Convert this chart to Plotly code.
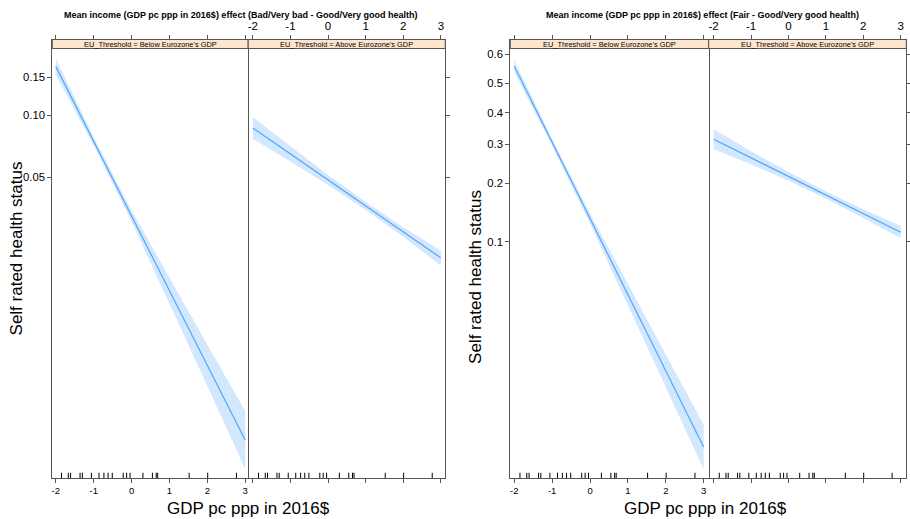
import numpy as np
import plotly.graph_objects as go

# ---------------- data (probabilities) ----------------
x_pts = [-2, -1, 0, 1, 2, 3]

bad_below_fit = [0.1673, 0.0752, 0.0318, 0.01312, 0.00535, 0.00217]
bad_below_lo = [0.1538, 0.0717, 0.0298, 0.01132, 0.00417, 0.00153]
bad_below_hi = [0.1817, 0.0787, 0.0340, 0.01522, 0.00686, 0.00308]
bad_above_fit = [0.0871, 0.0651, 0.0484, 0.0358, 0.0264, 0.0194]
bad_above_lo = [0.0773, 0.0599, 0.0457, 0.0341, 0.0249, 0.0177]
bad_above_hi = [0.0981, 0.0708, 0.0512, 0.0375, 0.0279, 0.0212]

fair_below_fit = [0.5597, 0.3062, 0.1329, 0.0505, 0.01813, 0.00637]
fair_below_lo = [0.5399, 0.2957, 0.1250, 0.0438, 0.01446, 0.00468]
fair_below_hi = [0.5793, 0.3169, 0.1411, 0.0582, 0.02271, 0.00867]
fair_above_fit = [0.3157, 0.2627, 0.2158, 0.1752, 0.1410, 0.1125]
fair_above_lo = [0.2862, 0.2456, 0.2059, 0.1681, 0.1339, 0.1043]
fair_above_hi = [0.3466, 0.2805, 0.2262, 0.1826, 0.1484, 0.1213]

rug_x = [-1.85, -1.67, -1.61, -1.36, -1.30, -1.06, -0.86, -0.73, -0.62, -0.51,
         -0.22, -0.13, -0.04, 0.30, 0.55, 0.65, 0.69, 1.52, 2.01, 2.77]

x_ticks = [-2, -1, 0, 1, 2, 3]
bad_yticks = [0.05, 0.10, 0.15]
bad_yticktext = ["0.05", "0.10", "0.15"]
fair_yticks = [0.1, 0.2, 0.3, 0.4, 0.5, 0.6]
fair_yticktext = ["0.1", "0.2", "0.3", "0.4", "0.5", "0.6"]

titles = ["Mean income (GDP pc ppp in 2016$) effect (Bad/Very bad - Good/Very good health)",
          "Mean income (GDP pc ppp in 2016$) effect (Fair - Good/Very good health)"]
strip_labels = ["EU_Threshold = Below Eurozone's GDP", "EU_Threshold = Above Eurozone's GDP"]
x_title = "GDP pc ppp in 2016$"
y_title = "Self rated health status"


def logit(p):
    p = np.asarray(p, dtype=float)
    return np.log(p / (1 - p))


# ---------------- layout geometry ----------------
W, H = 910, 519
FONT = "Liberation Sans, Arial, sans-serif"
LINE_COL = "#555555"
FIT_COL = "#4ea5ff"
BAND_COL = "#d3e8fd"

panels_px = [(51.5, 248), (248, 445.7), (511, 710), (710, 908.3)]
x_ranges = [[-2.092, 3.079], [-2.125, 3.116], [-2.105, 3.132], [-2.133, 3.149]]
plot_top, plot_bot, strip_bot = 39.5, 478, 48.5
ydom = [1 - plot_bot / H, 1 - plot_top / H]
y_ranges = [[-6.591, -1.276], [-5.48, 0.611]]

fig = go.Figure()

series = [
    (bad_below_fit, bad_below_lo, bad_below_hi),
    (bad_above_fit, bad_above_lo, bad_above_hi),
    (fair_below_fit, fair_below_lo, fair_below_hi),
    (fair_above_fit, fair_above_lo, fair_above_hi),
]

for i, (fit, lo, hi) in enumerate(series):
    xa = "x" if i == 0 else f"x{i+1}"
    ya = "y" if i == 0 else f"y{i+1}"
    fig.add_trace(go.Scatter(
        x=list(x_pts) + list(x_pts)[::-1],
        y=list(logit(hi)) + list(logit(lo))[::-1],
        fill="toself", fillcolor=BAND_COL, line=dict(width=0),
        mode="lines", showlegend=False, hoverinfo="skip",
        xaxis=xa, yaxis=ya))
    fig.add_trace(go.Scatter(
        x=x_pts, y=logit(fit), mode="lines",
        line=dict(color=FIT_COL, width=1.2), showlegend=False,
        xaxis=xa, yaxis=ya))

layout = dict(width=W, height=H, margin=dict(l=0, r=0, t=0, b=0),
              paper_bgcolor="white", plot_bgcolor="white",
              font=dict(family=FONT, color="black"))

for i, (a, b) in enumerate(panels_px):
    key = "xaxis" if i == 0 else f"xaxis{i+1}"
    ykey = "yaxis" if i == 0 else f"yaxis{i+1}"
    fig_idx = i // 2
    first = (i % 2 == 0)
    layout[key] = dict(
        domain=[a / W, b / W], range=x_ranges[i],
        anchor="y" if i == 0 else f"y{i+1}",
        side="bottom" if first else "top",
        tickvals=x_ticks, ticktext=[str(t) for t in x_ticks],
        tickfont=dict(size=9.5 if first else 11.5, color="black"),
        ticks="outside", ticklen=4, tickcolor=LINE_COL, tickwidth=1,
        showline=True, linecolor=LINE_COL, linewidth=1, mirror="ticks",
        showgrid=False, zeroline=False, fixedrange=True)
    yt = bad_yticks if fig_idx == 0 else fair_yticks
    ytt = bad_yticktext if fig_idx == 0 else fair_yticktext
    layout[ykey] = dict(
        domain=ydom, range=y_ranges[fig_idx],
        anchor="x" if i == 0 else f"x{i+1}",
        side="left" if first else "right",
        tickvals=list(logit(yt)), ticktext=ytt,
        showticklabels=first,
        tickfont=dict(size=11.3, color="black"),
        ticks="outside", ticklen=4, tickcolor=LINE_COL, tickwidth=1,
        showline=True, linecolor=LINE_COL, linewidth=1, mirror=first,
        showgrid=False, zeroline=False, fixedrange=True)

fig.update_layout(**layout)

shapes = []
annotations = []
for i, (a, b) in enumerate(panels_px):
    xa = "x" if i == 0 else f"x{i+1}"
    ya = "y" if i == 0 else f"y{i+1}"
    # strip
    shapes.append(dict(type="rect", xref="paper", yref="paper",
                       x0=a / W, x1=b / W, y0=1 - strip_bot / H, y1=1 - plot_top / H,
                       fillcolor="#ffe5cc", line=dict(color=LINE_COL, width=1),
                       layer="above"))
    annotations.append(dict(text=strip_labels[i % 2], xref="paper", yref="paper",
                            x=(a + b) / 2 / W, y=1 - (plot_top + strip_bot) / 2 / H,
                            xanchor="center", yanchor="middle", showarrow=False,
                            font=dict(size=7.4, color="black", family=FONT)))
    # rug
    for r in rug_x:
        shapes.append(dict(type="line", xref=xa, yref=f"{ya} domain",
                           x0=r, x1=r, y0=0, y1=0.012,
                           line=dict(color="black", width=1)))

# titles
for j, cx in enumerate([240.5, 703.5]):
    annotations.append(dict(text=f"<b>{titles[j]}</b>", xref="paper", yref="paper",
                            x=cx / W, y=1 - 14.7 / H, xanchor="center", yanchor="middle",
                            showarrow=False, font=dict(size=9, color="black", family=FONT)))
for cx in [248.5, 706.5]:
    annotations.append(dict(text=x_title, xref="paper", yref="paper",
                            x=cx / W, y=1 - 508 / H, xanchor="center", yanchor="middle",
                            showarrow=False, font=dict(size=17, color="black", family=FONT)))
for cx, cy in [(15.5, 248), (475.5, 277)]:
    annotations.append(dict(text=y_title, xref="paper", yref="paper", textangle=-90,
                            x=cx / W, y=1 - cy / H, xanchor="center", yanchor="middle",
                            showarrow=False, font=dict(size=17, color="black", family=FONT)))

fig.update_layout(shapes=shapes, annotations=annotations)
fig.write_html("out.html", config={"displayModeBar": False},
               post_script="document.body.style.margin='0';document.body.style.overflow='hidden';")
